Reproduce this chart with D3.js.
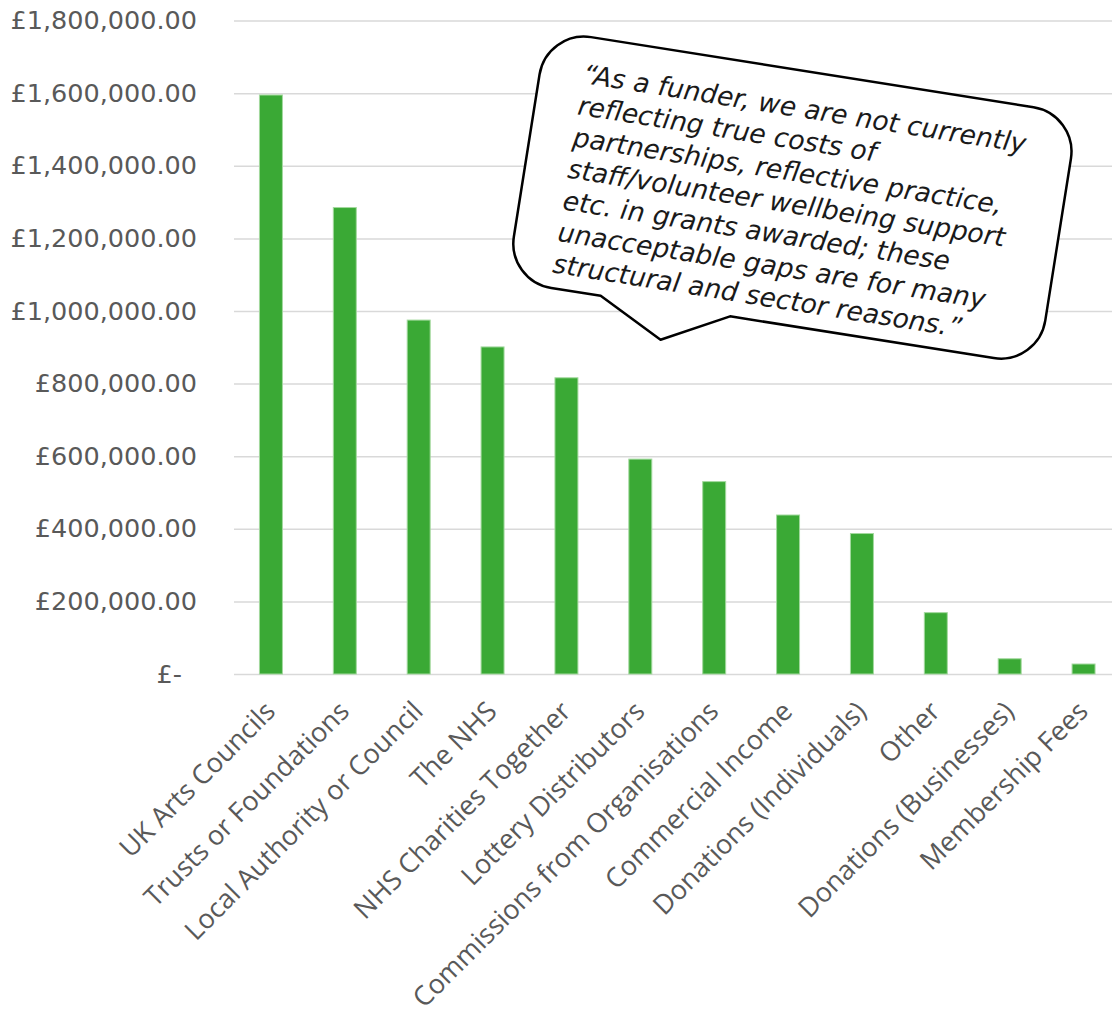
<!DOCTYPE html>
<html>
<head>
  <meta charset="utf-8">
  <title>Income by source</title>
  <script src="https://d3js.org/d3.v7.min.js"></script>
  <style>
  body { margin: 0; background: #fff; }
  svg { display: block; }
  .grid line { stroke: #d9d9d9; stroke-width: 1.5; }
  .grid text { fill: #595959; font: 25.5px "DejaVu Sans", sans-serif; }
  .xaxis text { fill: #595959; font: 27px "Open Sans", sans-serif; }
  .bar { fill: #3aa935; stroke: #a3d99e; stroke-width: 1; }
  .bubble { fill: #fff; stroke: #000; stroke-width: 2.5; stroke-linejoin: round; }
  .quote { font: italic 26.6px "DejaVu Sans", sans-serif; fill: #1a1a1a; }
  </style>
</head>
<body>
<svg id="chart"></svg>
<script>
// income sources, sorted as in the original
var categories = [
  "UK Arts Councils", "Trusts or Foundations", "Local Authority or Council",
  "The NHS", "NHS Charities Together", "Lottery Distributors",
  "Commissions from Organisations", "Commercial Income", "Donations (Individuals)",
  "Other", "Donations (Businesses)", "Membership Fees"
];
var values = [1595000, 1285000, 975000, 901000, 816000, 592000,
              530000, 438000, 387000, 169000, 42000, 27500];
var yTicks = [0, 200000, 400000, 600000, 800000, 1000000,
              1200000, 1400000, 1600000, 1800000];
var quoteLines = [
  "\u201CAs a funder, we are not currently",
  "reflecting true costs of",
  "partnerships, reflective practice,",
  "staff/volunteer wellbeing support",
  "etc. in grants awarded; these",
  "unacceptable gaps are for many",
  "structural and sector reasons.\u201D"
];

var width = 1112, height = 1014;
var plotLeft = 234, plotRight = 1120.5, plotTop = 20.6, plotBottom = 674;

var svg = d3.select("#chart").attr("width", width).attr("height", height);

var x = d3.scaleBand()
  .domain(categories)
  .range([plotLeft, plotRight])
  .paddingInner(0.689)
  .paddingOuter(0.689 / 2);

var y = d3.scaleLinear()
  .domain([0, 1800000])
  .range([plotBottom, plotTop]);

var money = d3.format(",.2f");

// gridlines + y labels
var grid = svg.append("g")
  .attr("class", "grid")
  .attr("transform", "translate(" + plotLeft + ",0)")
  .call(d3.axisLeft(y)
    .tickValues(yTicks)
    .tickSize(-(width - plotLeft))
    .tickPadding(37)
    .tickFormat(function(d) { return d === 0 ? "£-" : "£" + money(d); }));
grid.select(".domain").remove();
grid.selectAll("text").filter(function(d) { return d === 0; }).attr("dx", -15);

// bars
svg.append("g").selectAll("rect")
  .data(values)
  .enter().append("rect")
  .attr("class", "bar")
  .attr("x", function(d, i) { return x(categories[i]); })
  .attr("width", x.bandwidth())
  .attr("y", function(d) { return y(d); })
  .attr("height", function(d) { return plotBottom - y(d); });

// category labels
var xAxis = svg.append("g")
  .attr("class", "xaxis")
  .attr("transform", "translate(0," + plotBottom + ")")
  .call(d3.axisBottom(x).tickSize(0));
xAxis.select(".domain").remove();
xAxis.selectAll("text")
  .attr("x", 0).attr("y", 0).attr("dy", 0)
  .attr("text-anchor", "end")
  .attr("transform", "translate(6,39) rotate(-45)");

// speech bubble
var hw = 269, hh = 127, r = 45;
var bubble = svg.append("g").attr("transform", "translate(792.4,197.6) rotate(9)");
var p = d3.path();
p.moveTo(-hw + r, -hh);
p.lineTo(hw - r, -hh);
p.arcTo(hw, -hh, hw, -hh + r, r);
p.lineTo(hw, hh - r);
p.arcTo(hw, hh, hw - r, hh, r);
p.lineTo(-43, hh);
p.lineTo(-108, 161);
p.lineTo(-174, hh);
p.lineTo(-hw + r, hh);
p.arcTo(-hw, hh, -hw, hh - r, r);
p.lineTo(-hw, -hh + r);
p.arcTo(-hw, -hh, -hw + r, -hh, r);
p.closePath();
bubble.append("path").attr("class", "bubble").attr("d", p.toString());

bubble.selectAll("text.quote")
  .data(quoteLines)
  .enter().append("text")
  .attr("class", "quote")
  .attr("x", -226)
  .attr("y", function(d, i) { return -80.5 + i * 32; })
  .text(function(d) { return d; });
</script>
</body>
</html>
